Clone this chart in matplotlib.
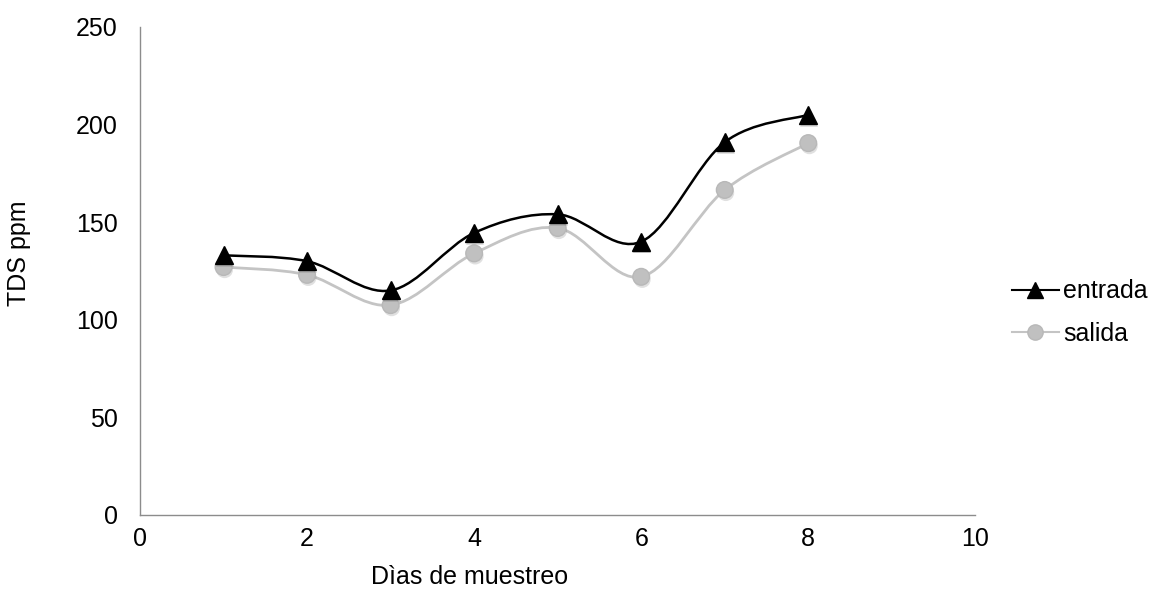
import numpy as np
import matplotlib.pyplot as plt
from matplotlib.path import Path
from matplotlib.patches import PathPatch
import matplotlib.patheffects as pe

# días de muestreo y TDS (ppm) en entrada y salida
dias = [1, 2, 3, 4, 5, 6, 7, 8]
entrada = [133, 130, 115, 144.5, 154, 140, 191, 205]
salida = [127, 123, 107.5, 134, 147, 122, 166.5, 190.5]

plt.rcParams['font.family'] = ['Liberation Sans', 'DejaVu Sans']


def curva_suave(ax, x, y, color, lw, z):
    # curva tipo Excel: Bezier cúbica entre puntos consecutivos
    x = np.asarray(x, float)
    y = np.asarray(y, float)
    n = len(x)
    verts = [(x[0], y[0])]
    codes = [Path.MOVETO]
    for i in range(n - 1):
        x0, y0 = (x[i - 1], y[i - 1]) if i > 0 else (x[i], y[i])
        x3, y3 = (x[i + 2], y[i + 2]) if i + 2 < n else (x[i + 1], y[i + 1])
        c1 = (x[i] + (x[i + 1] - x0) / 6, y[i] + (y[i + 1] - y0) / 6)
        c2 = (x[i + 1] - (x3 - x[i]) / 6, y[i + 1] - (y3 - y[i]) / 6)
        verts += [c1, c2, (x[i + 1], y[i + 1])]
        codes += [Path.CURVE4] * 3
    patch = PathPatch(Path(verts, codes), facecolor='none', edgecolor=color,
                      lw=lw, zorder=z)
    ax.add_patch(patch)


fig = plt.figure(figsize=(11.57, 6.13), dpi=100)
ax = fig.add_axes([0.121, 0.160, 0.722, 0.796])

sombra = [pe.SimplePatchShadow(offset=(0.8, -2), shadow_rgbFace='#666666', alpha=0.2), pe.Normal()]

curva_suave(ax, dias, salida, '#c4c4c4', 2.0, 2)
curva_suave(ax, dias, entrada, 'black', 1.8, 3)

ax.plot(dias, salida, linestyle='none', marker='o', markersize=12,
        markerfacecolor='#c0c0c0', markeredgecolor='#b8b8b8', zorder=4,
        path_effects=sombra)
ax.plot(dias, entrada, linestyle='none', marker='^', markersize=13,
        color='black', zorder=5, path_effects=sombra)

# muestras para la leyenda
h1, = ax.plot([], [], color='black', lw=1.5, marker='^', markersize=12)
h2, = ax.plot([], [], color='#c4c4c4', lw=1.5, marker='o', markersize=11,
              markerfacecolor='#c0c0c0', markeredgecolor='#b8b8b8')

ax.set_xlim(0, 10)
ax.set_ylim(0, 250)
ax.set_xticks([0, 2, 4, 6, 8, 10])
ax.set_yticks([0, 50, 100, 150, 200, 250])
ax.tick_params(length=0, labelsize=18)
ax.tick_params(axis='y', pad=16)
ax.tick_params(axis='x', pad=9)

for s in ['top', 'right']:
    ax.spines[s].set_visible(False)
for s in ['left', 'bottom']:
    ax.spines[s].set_color('#8c8c8c')
    ax.spines[s].set_linewidth(1.0)

ax.set_xlabel('Dìas de muestreo', fontsize=18)
ax.set_ylabel('TDS ppm', fontsize=18)
ax.xaxis.set_label_coords(0.395, -0.102)
ax.yaxis.set_label_coords(-0.130, 0.537)

fig.legend([h1, h2], ['entrada', 'salida'], loc='center left',
           bbox_to_anchor=(0.855, 0.49), frameon=False, fontsize=18,
           handlelength=1.9, handletextpad=0.15, labelspacing=0.75)

fig.savefig('out.png', dpi=100)
